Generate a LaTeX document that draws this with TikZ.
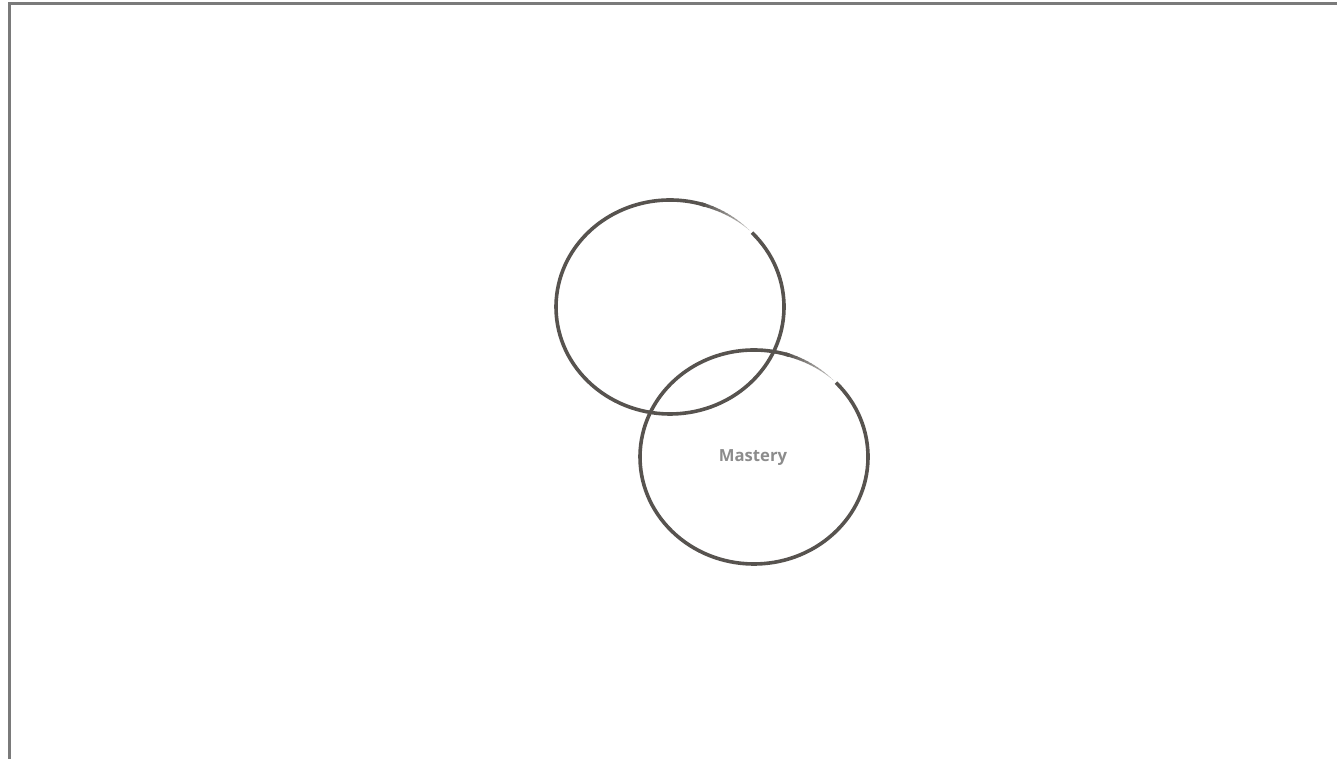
\documentclass[tikz,border=0pt]{standalone}
\usepackage{fontspec}
\newfontfamily\labelfont{Open Sans}
\usetikzlibrary{calc}
\definecolor{ringgray}{HTML}{57534F}
\definecolor{textgray}{HTML}{8C8C8C}
\definecolor{framegray}{HTML}{7A7A7A}
\begin{document}
\begin{tikzpicture}[x=0.75pt,y=0.75pt,
  ringStroke/.style={draw=ringgray, line width=2.7pt},
  frameLine/.style={draw=framegray, line width=1.6pt},
  tagText/.style={font=\labelfont\bfseries\fontsize{12.5}{15}\selectfont, text=textgray},
]
\useasboundingbox (0,0) rectangle (1337,759);
\draw[frameLine] (9.5,0) -- (9.5,755.5) -- (1337,755.5);
% two hand-drawn rings, each with a brush gap at the upper right
\coordinate (ringTop) at (670,452);
\coordinate (ringLow) at (754,302);
\foreach \ring in {ringTop,ringLow} {
  \draw[ringStroke] ([shift={(44:85.5pt and 80.25pt)}]\ring) arc[start angle=44, end angle=-288, x radius=85.5pt, y radius=80.25pt];
  \foreach \i in {0,...,13} {
    \pgfmathsetmacro{\a}{74-2*\i}
    \pgfmathsetmacro{\b}{\a-2.2}
    \pgfmathsetmacro{\w}{2.7*(1-\i/14)}
    \pgfmathsetmacro{\f}{100-5*\i}
    \draw[draw=ringgray!\f, line width=\w pt] ([shift={(\a:85.5pt and 80.25pt)}]\ring) arc[start angle=\a, end angle=\b, x radius=85.5pt, y radius=80.25pt];
  }
}
\node[tagText] (mastery) at (753,301) {Mastery};
\end{tikzpicture}
\end{document}
